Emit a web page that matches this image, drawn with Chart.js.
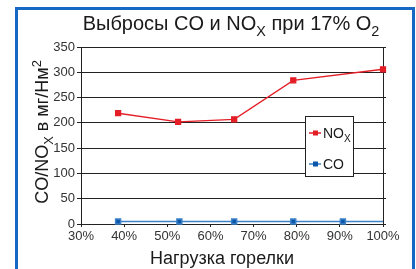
<!DOCTYPE html>
<html>
<head>
    <title>Выбросы CO и NOx при 17% O2</title>
    <script src="https://cdn.jsdelivr.net/npm/chart.js"></script>
    <style>
        html, body { margin: 0; padding: 0; background: #fff; }
        .chart-container { width: 416px; height: 269px; position: relative; }
    </style>
</head>
<body>
    <div class="chart-container">
        <canvas id="emissionChart"></canvas>
    </div>

    <script>
        // Данные (нагрузка горелки в %, выбросы в мг/Нм2)
        const noxLoad = [38.6, 52.5, 65.5, 79.2, 100];
        const noxValues = [219, 202, 207, 284, 306];
        const coLoad = [38.6, 52.8, 65.5, 79.2, 90.7, 100];
        const coValues = [5, 5, 5, 5, 5, 5];
        const xTicks = [30, 40, 50, 60, 70, 80, 90, 100];
        const yTicks = [0, 50, 100, 150, 200, 250, 300, 350];

        const FONT = '"Liberation Sans", Arial, sans-serif';
        const RED = '#e41e26';
        const BLUE = '#0a56a8';
        const BLUE_LINE = '#3d82c8';
        const FRAME = '#1569c2';

        // Текст с индексами: [текст, 'sub' | 'sup' | undefined]
        function richWidth(ctx, parts, size) {
            let w = 0;
            parts.forEach(p => {
                ctx.font = (p[1] ? size * 0.72 : size) + 'px ' + FONT;
                w += ctx.measureText(p[0]).width;
            });
            return w;
        }

        function drawRich(ctx, parts, x, y, size, align) {
            let w = richWidth(ctx, parts, size);
            let cx = align === 'center' ? x - w / 2 : x;
            ctx.textAlign = 'left';
            ctx.textBaseline = 'alphabetic';
            parts.forEach(p => {
                ctx.font = (p[1] ? size * 0.72 : size) + 'px ' + FONT;
                let dy = p[1] === 'sub' ? size * 0.28 : (p[1] === 'sup' ? -size * 0.38 : 0);
                ctx.fillText(p[0], cx, y + dy);
                cx += ctx.measureText(p[0]).width;
            });
        }

        const decorPlugin = {
            id: 'decor',
            beforeDraw(chart) {
                const ctx = chart.ctx;
                ctx.save();
                ctx.fillStyle = '#fff';
                ctx.fillRect(0, 0, chart.width, chart.height);
                ctx.fillStyle = FRAME;
                ctx.fillRect(15, 7, 3, 262);
                ctx.fillRect(15, 7, 400, 3);
                ctx.fillRect(412, 7, 3, 262);
                ctx.restore();
            },
            afterDraw(chart) {
                const ctx = chart.ctx;
                ctx.save();
                ctx.fillStyle = '#1a1a1a';

                // Заголовок
                drawRich(ctx, [['Выбросы CO и NO'], ['X', 'sub'], [' при 17% O'], ['2', 'sub']], 231, 30, 20, 'center');

                // Подпись оси X
                drawRich(ctx, [['Нагрузка горелки']], 222, 264, 18, 'center');

                // Подпись оси Y
                ctx.save();
                ctx.translate(48, 132);
                ctx.rotate(-Math.PI / 2);
                drawRich(ctx, [['CO/NO'], ['X', 'sub'], [' в мг/Нм'], ['2', 'sup']], 0, 0, 18, 'center');
                ctx.restore();

                // Легенда
                ctx.fillStyle = '#fff';
                ctx.fillRect(305, 116, 49, 61);
                ctx.strokeStyle = '#222';
                ctx.lineWidth = 1;
                ctx.strokeRect(305.5, 116.5, 48, 60);

                const items = [
                    { y: 133, line: RED, mark: RED, parts: [['NO'], ['X', 'sub']] },
                    { y: 164, line: BLUE_LINE, mark: BLUE, parts: [['CO']] }
                ];
                items.forEach(it => {
                    ctx.strokeStyle = it.line;
                    ctx.lineWidth = 1.5;
                    ctx.beginPath();
                    ctx.moveTo(309, it.y);
                    ctx.lineTo(321, it.y);
                    ctx.stroke();
                    ctx.fillStyle = it.mark;
                    ctx.fillRect(313, it.y - 2.5, 5, 5);
                    ctx.fillStyle = '#1a1a1a';
                    drawRich(ctx, it.parts, 323, it.y + 5, 14, 'left');
                });
                ctx.restore();
            }
        };

        const ctx = document.getElementById('emissionChart').getContext('2d');
        const emissionChart = new Chart(ctx, {
            type: 'line',
            data: {
                datasets: [{
                    label: 'NOx',
                    data: noxLoad.map((x, i) => ({ x: x, y: noxValues[i] })),
                    borderColor: RED,
                    backgroundColor: RED,
                    borderWidth: 1.3,
                    pointStyle: 'rect',
                    pointRadius: 3.5,
                    pointHoverRadius: 3.5,
                    clip: 6,
                    fill: false
                }, {
                    label: 'CO',
                    data: coLoad.map((x, i) => ({ x: x, y: coValues[i] })),
                    borderColor: BLUE_LINE,
                    backgroundColor: BLUE,
                    borderWidth: 1.5,
                    pointStyle: 'rect',
                    pointRadius: coLoad.map((x, i) => i === coLoad.length - 1 ? 0 : 3.5),
                    pointHoverRadius: 3.5,
                    clip: 6,
                    fill: false
                }]
            },
            options: {
                responsive: true,
                maintainAspectRatio: false,
                animation: false,
                events: [],
                layout: { padding: { left: 0, top: 47, right: 30, bottom: 0 } },
                plugins: {
                    legend: { display: false },
                    title: { display: false },
                    tooltip: { enabled: false }
                },
                scales: {
                    x: {
                        type: 'linear',
                        min: 30,
                        max: 100,
                        afterFit: a => { a.height = 45; },
                        afterBuildTicks: a => { a.ticks = xTicks.map(v => ({ value: v })); },
                        grid: { drawOnChartArea: false, tickLength: 3, color: '#222' },
                        border: { color: '#222', width: 1 },
                        ticks: {
                            padding: 2,
                            color: '#333',
                            font: { family: FONT, size: 13 },
                            callback: v => v + '%'
                        }
                    },
                    y: {
                        min: 0,
                        max: 350,
                        afterFit: a => { a.width = 81; },
                        afterBuildTicks: a => { a.ticks = yTicks.map(v => ({ value: v })); },
                        grid: { color: '#222', tickLength: 4 },
                        border: { color: '#222', width: 1 },
                        ticks: {
                            padding: 2,
                            color: '#333',
                            font: { family: FONT, size: 13 }
                        }
                    },
                    y2: {
                        position: 'right',
                        min: 0,
                        max: 350,
                        afterFit: a => { a.width = 3; },
                        afterBuildTicks: a => { a.ticks = yTicks.map(v => ({ value: v })); },
                        grid: { drawOnChartArea: false, color: '#222', tickLength: 3 },
                        border: { color: '#222', width: 1 },
                        ticks: { display: false }
                    }
                }
            },
            plugins: [decorPlugin]
        });
    </script>
</body>
</html>
